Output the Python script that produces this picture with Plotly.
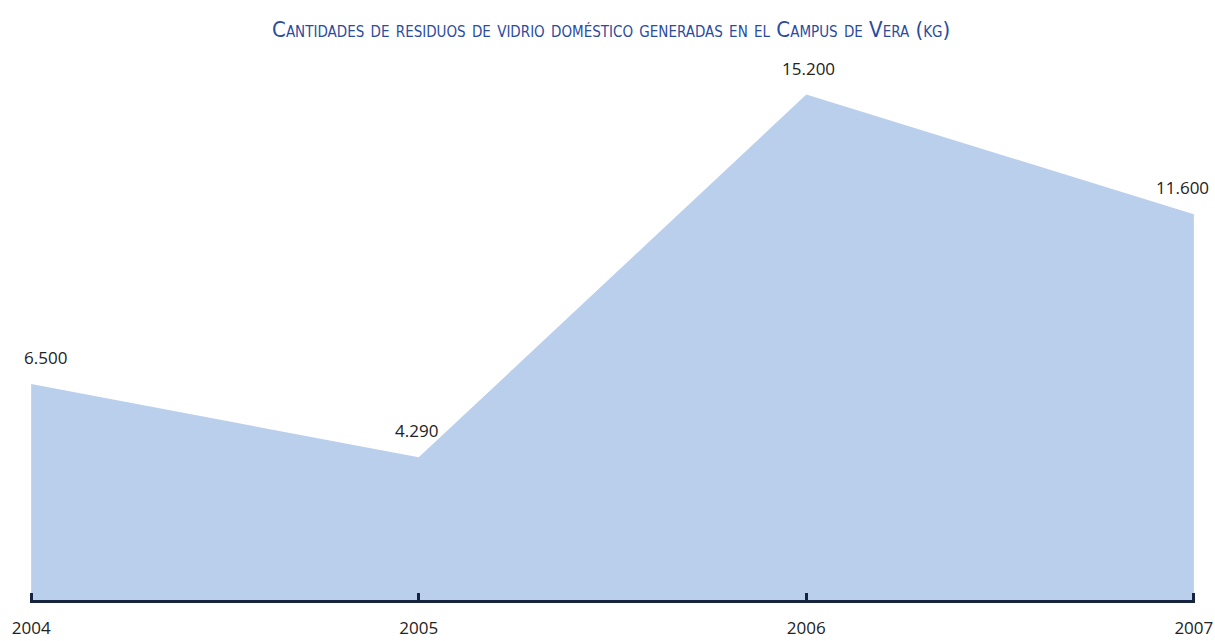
import plotly.graph_objects as go

years = [2004, 2005, 2006, 2007]
glass_kg = [6500, 4290, 15200, 11600]
value_labels = ["6.500", "4.290", "15.200", "11.600"]
year_labels = ["2004", "2005", "2006", "2007"]

title_text = "Cantidades de residuos de vidrio doméstico generadas en el Campus de Vera (kg)"

label_font = dict(family="Open Sans, Liberation Sans, sans-serif", size=17, color="#222222")

fig = go.Figure()
fig.add_trace(go.Scatter(
    x=years, y=glass_kg,
    mode="lines",
    line=dict(width=0, color="#B9CFEB"),
    fill="tozeroy",
    fillcolor="#B9CFEB",
    hoverinfo="skip",
    showlegend=False,
))

# value labels above each point, nudged inward at the edges
shifts = [14, -2, 2, -11]
for x, y, t, dx in zip(years, glass_kg, value_labels, shifts):
    fig.add_annotation(
        x=x, y=y, text=t, showarrow=False,
        xanchor="center", yanchor="bottom",
        xshift=dx, yshift=13,
        font=label_font,
    )

fig.update_layout(
    width=1215, height=641,
    margin=dict(l=30, r=20, t=68, b=41),
    paper_bgcolor="white",
    plot_bgcolor="white",
    title=dict(
        text=title_text,
        x=0.503, xanchor="center",
        y=0.955, yanchor="middle",
        font=dict(family="DejaVu Sans Condensed, sans-serif",
                  size=22, color="#2B4C9E", variant="small-caps"),
    ),
    xaxis=dict(
        # a hair of padding so the end ticks are drawn too
        range=[2003.997, 2007.003],
        tickvals=years, ticktext=year_labels,
        showgrid=False, zeroline=False,
        showline=True, linecolor="#16243F", linewidth=3,
        ticks="inside", ticklen=7, tickwidth=3, tickcolor="#16243F",
        ticklabelstandoff=11,
        tickfont=label_font,
        automargin=False,
        fixedrange=True,
    ),
    yaxis=dict(
        range=[0, 16000],
        visible=False,
        showgrid=False, zeroline=False,
        automargin=False,
        fixedrange=True,
    ),
)

fig.write_html("out.html")
